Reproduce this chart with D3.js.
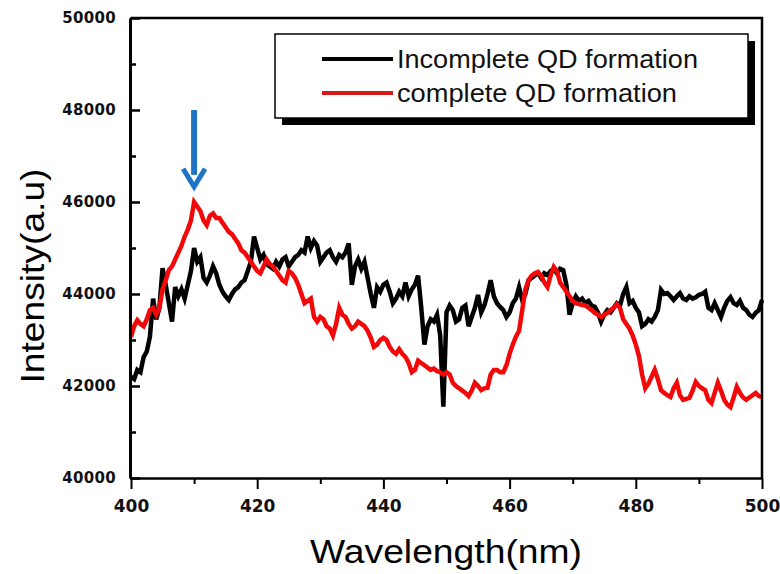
<!DOCTYPE html>
<html>
<head>
<meta charset="utf-8">
<script src="https://cdn.jsdelivr.net/npm/d3@7"></script>
<style>
  html, body { margin: 0; padding: 0; background: #fff; }
  svg { display: block; }
</style>
</head>
<body>
<div id="chart"></div>
<script>
// ---------------- DATA ----------------
const wlStart = 400, wlStep = 0.5;
const seriesNames = ["Incomplete QD formation", "complete QD formation"];
const xTickLabels = [400, 420, 440, 460, 480, 500];
const yTickLabels = [40000, 42000, 44000, 46000, 48000, 50000];

const incomplete = [
42200,42150,42350,42300,42630,42750,43070,43900,43450,43700,
44560,44200,43800,43400,44150,43950,44100,43900,44200,44500,
45000,44700,44800,44350,44250,44400,44600,44450,44200,44050,
43950,43870,44000,44100,44150,44250,44300,44500,44700,45250,
45000,44750,44850,44650,44600,44550,44700,44600,44750,44800,
44600,44700,44800,44850,44950,44900,45250,45000,45150,45050,
44700,44800,44900,44950,44800,44700,44850,44800,44900,45100,
44200,44600,44750,44550,44700,44350,44000,43700,44150,44050,
44200,44250,44050,43800,43900,44050,43950,44250,43950,44100,
44200,44400,43700,42900,43300,43450,43400,43550,43100,41550,
43600,43750,43650,43400,43450,43700,43750,43300,43500,43700,
43980,43600,43750,44000,44300,43950,43800,43720,43650,43500,
43600,43800,43900,44150,43870,44000,44300,44350,44400,44460,
44350,44450,44410,44500,44550,44450,44550,44520,44200,43550,
43800,43950,43850,43900,43800,43850,43750,43720,43600,43400,
43550,43650,43600,43700,43800,43750,44000,44150,43800,43850,
43700,43600,43300,43350,43450,43400,43500,43650,44090,44000,
44020,43950,43870,43950,44020,43900,43870,43950,43900,43930,
43980,44000,44050,43700,43650,43800,43650,43500,43700,43850,
43930,43800,43760,43850,43700,43650,43550,43500,43590,43650,
43870
];

const complete = [
43070,43300,43430,43350,43300,43450,43650,43700,43550,43700,
44100,44300,44520,44600,44750,44900,45050,45250,45400,45600,
46000,45900,45800,45600,45500,45700,45750,45650,45650,45550,
45450,45350,45300,45200,45100,44950,44900,44800,44700,44600,
44500,44450,44600,44750,44650,44600,44500,44400,44300,44250,
44500,44450,44350,44200,44000,43800,43850,43900,43500,43400,
43500,43450,43300,43250,43100,43350,43700,43550,43500,43350,
43250,43300,43400,43350,43300,43200,43050,42850,42900,43000,
43050,43000,42850,42750,42700,42800,42700,42630,42500,42300,
42350,42550,42500,42450,42400,42350,42380,42320,42300,42250,
42300,42250,42070,42000,41950,41900,41850,41780,41900,42070,
42000,41910,41950,41960,42250,42350,42350,42300,42300,42450,
42700,42900,43070,43200,43650,44100,44300,44400,44450,44480,
44400,44250,44150,44400,44590,44500,44250,44150,44050,43950,
43850,43800,43780,43760,43750,43700,43650,43590,43550,43500,
43550,43590,43650,43700,43780,43700,43450,43350,43250,43100,
42900,42650,42250,41950,42050,42200,42350,42150,41910,41850,
41800,41760,41950,42070,41800,41700,41720,41740,41900,42090,
42000,41950,41910,41700,41630,41850,42070,41900,41700,41600,
41540,41750,41980,41850,41750,41700,41750,41800,41850,41780,
41760
];

const arrowAt = 410, arrowFrom = 48000, arrowTo = 46330;

// ---------------- CHART ----------------
const W = 780, H = 574;
const svg = d3.select("#chart").append("svg").attr("width", W).attr("height", H);

const x = d3.scaleLinear().domain([400, 500]).range([131, 762]);
const y = d3.scaleLinear().domain([40000, 50000]).range([478, 18]);

const toPts = arr => arr.map((v, i) => [wlStart + i * wlStep, v]);
const line = d3.line().x(d => x(d[0])).y(d => y(d[1]));

const plot = svg.append("g");
plot.append("path").datum(toPts(incomplete))
  .attr("d", line).attr("fill", "none").attr("stroke", "#000")
  .attr("stroke-width", 4.5).attr("stroke-linejoin", "miter");
plot.append("path").datum(toPts(complete))
  .attr("d", line).attr("fill", "none").attr("stroke", "#f20808")
  .attr("stroke-width", 4.5).attr("stroke-linejoin", "miter");

// Frame (top & right)
svg.append("path")
  .attr("d", `M${x(400)},${y(50000)}H${x(500)}V${y(40000)}`)
  .attr("fill", "none").attr("stroke", "#000").attr("stroke-width", 2.5);

// X axis
const tickFont = "'DejaVu Sans', sans-serif";
const xAxis = svg.append("g").attr("transform", `translate(0,${y(40000)})`)
  .call(d3.axisBottom(x).tickValues(xTickLabels).tickSize(11).tickPadding(11).tickSizeOuter(0).tickFormat(d3.format("d")));
xAxis.select(".domain").attr("stroke-width", 2.5);
xAxis.selectAll(".tick line").attr("stroke", "#000").attr("stroke-width", 2);
xAxis.selectAll("text").attr("font-family", tickFont).attr("font-weight", "bold")
  .attr("font-size", 17).attr("fill", "#111");
svg.append("g").attr("transform", `translate(0,${y(40000)})`)
  .call(d3.axisBottom(x).tickValues([410, 430, 450, 470, 490]).tickSize(6).tickFormat(""))
  .call(g => g.select(".domain").remove())
  .selectAll(".tick line").attr("stroke", "#000").attr("stroke-width", 2);

// Y axis
const yAxis = svg.append("g").attr("transform", `translate(${x(400) - 1},0)`)
  .call(d3.axisLeft(y).tickValues(yTickLabels).tickSize(-10).tickPadding(14).tickSizeOuter(0).tickFormat(d3.format("d")));
yAxis.select(".domain").attr("stroke-width", 3);
yAxis.selectAll(".tick line").attr("stroke", "#000").attr("stroke-width", 2.5);
yAxis.selectAll("text").attr("font-family", tickFont).attr("font-weight", "bold")
  .attr("font-size", 15).attr("letter-spacing", 0.3).attr("fill", "#111");
svg.append("g").attr("transform", `translate(${x(400) - 1},0)`)
  .call(d3.axisLeft(y).tickValues([41000, 43000, 45000, 47000, 49000]).tickSize(-6).tickFormat(""))
  .call(g => g.select(".domain").remove())
  .selectAll(".tick line").attr("stroke", "#000").attr("stroke-width", 2.5);

// Axis titles
const titleFont = "'Liberation Sans', Arial, sans-serif";
svg.append("text").attr("x", 446).attr("y", 563).attr("text-anchor", "middle")
  .attr("font-family", titleFont).attr("font-size", 34)
  .attr("textLength", 272).attr("lengthAdjust", "spacingAndGlyphs")
  .text("Wavelength(nm)");
svg.append("text").attr("transform", "translate(44,276) rotate(-90)")
  .attr("text-anchor", "middle")
  .attr("font-family", titleFont).attr("font-size", 34)
  .attr("textLength", 215).attr("lengthAdjust", "spacingAndGlyphs")
  .text("Intensity(a.u)");

// Legend
const leg = svg.append("g");
leg.append("rect").attr("x", 282).attr("y", 41).attr("width", 473).attr("height", 84).attr("fill", "#000");
leg.append("rect").attr("x", 275).attr("y", 34).attr("width", 473).attr("height", 84)
  .attr("fill", "#fff").attr("stroke", "#000").attr("stroke-width", 1.5);
const legColors = ["#000", "#d81818"];
const legY = [59, 93];
seriesNames.forEach((name, i) => {
  leg.append("line").attr("x1", 322).attr("x2", 393).attr("y1", legY[i]).attr("y2", legY[i])
    .attr("stroke", legColors[i]).attr("stroke-width", 4);
  leg.append("text").attr("x", 397).attr("y", legY[i] + 9)
    .attr("font-family", titleFont).attr("font-size", 26).attr("fill", "#111")
    .attr("textLength", i === 0 ? 301 : 280).attr("lengthAdjust", "spacingAndGlyphs")
    .text(name);
});

// Arrow annotation
const ax = x(arrowAt), ay1 = y(arrowFrom), ay2 = y(arrowTo);
svg.append("line").attr("x1", ax).attr("x2", ax).attr("y1", ay1).attr("y2", ay2 - 12)
  .attr("stroke", "#1f74c4").attr("stroke-width", 6);
svg.append("path")
  .attr("d", `M${ax - 11},${ay2 - 18}L${ax},${ay2}L${ax + 11},${ay2 - 18}`)
  .attr("fill", "none").attr("stroke", "#1f74c4").attr("stroke-width", 5)
  .attr("stroke-linejoin", "miter");
</script>
</body>
</html>
